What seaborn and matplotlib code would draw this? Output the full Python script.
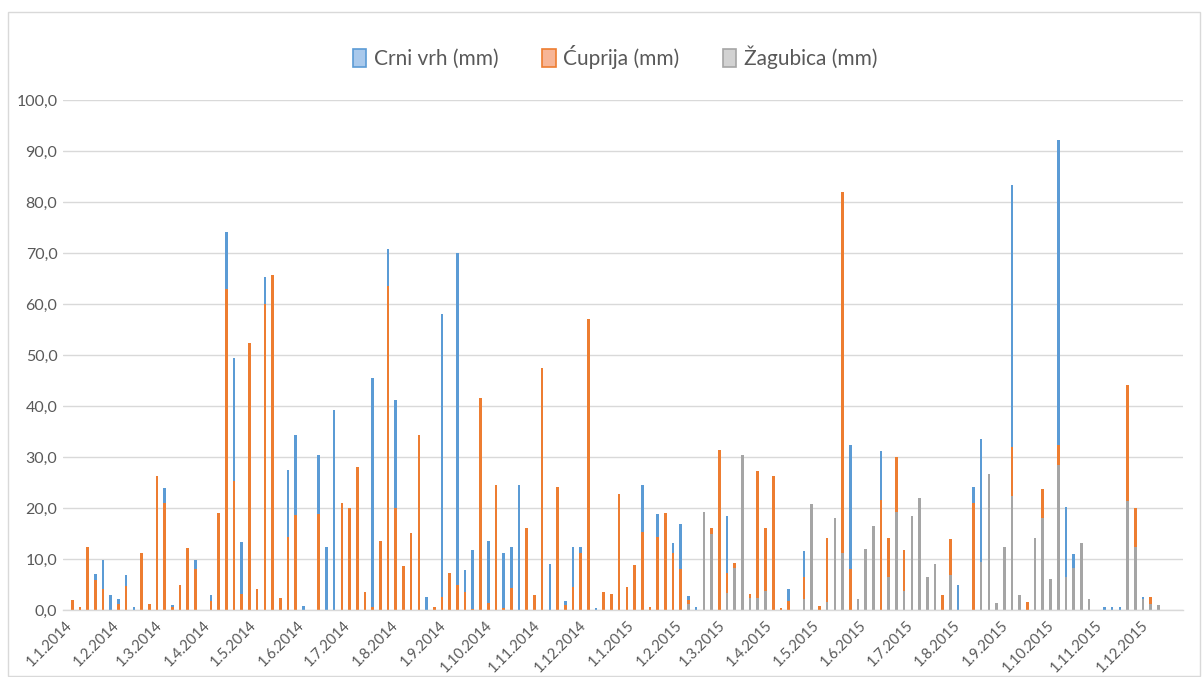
import matplotlib
matplotlib.use("Agg")
import matplotlib.pyplot as plt
import matplotlib.dates as mdates
from matplotlib.patches import Patch, Rectangle
from matplotlib.ticker import FuncFormatter, MultipleLocator
import seaborn as sns
import pandas as pd

# 5-day precipitation sums, starting 1.1.2014
start = "2014-01-01"
step = "5D"

crni_vrh = [0, 1.2, 0, 7.4, 7.0, 9.8, 2.9, 2.1, 6.8, 0.5,
            5.2, 1.0, 24.2, 23.9, 1.0, 2.1, 0, 9.8, 0, 2.9,
            0.5, 74.2, 49.4, 13.4, 33.0, 1.0, 65.2, 28.9, 0, 27.5,
            34.4, 0.7, 0, 30.4, 12.4, 39.2, 13.8, 0, 6.6, 0,
            45.5, 9.0, 70.8, 41.1, 0.3, 1.0, 0.8, 2.6, 0, 58.1,
            0, 70.0, 7.9, 11.7, 0, 13.5, 10.2, 11.2, 12.3, 24.5,
            0, 0, 0, 9.0, 23.5, 1.7, 12.3, 12.3, 46.7, 0.3,
            0, 0, 21.5, 1.6, 0, 24.6, 0, 18.8, 7.4, 13.2,
            16.8, 2.8, 0.6, 8.7, 0, 0, 18.4, 1.5, 10.3, 0,
            20.4, 15.8, 24.1, 0.4, 4.1, 0, 11.6, 9.0, 0, 4.5,
            0, 28.9, 32.3, 0.5, 1.7, 12.3, 31.2, 3.6, 13.9, 2.2,
            0, 0, 0, 0, 2.0, 0, 5.0, 0, 24.2, 33.5,
            1.5, 0, 0, 83.3, 0, 0, 4.2, 22.1, 3.7, 92.1,
            20.1, 11.0, 11.2, 0, 0, 0.5, 0.5, 0.5, 33.2, 16.8,
            2.5, 0, 0]

cuprija = [0, 2.0, 0.5, 12.3, 5.8, 4.2, 0, 1.2, 4.8, 0,
           11.1, 1.2, 26.3, 21.0, 0.5, 5.0, 12.2, 8.0, 0, 1.8,
           19.1, 62.9, 25.3, 3.2, 52.3, 4.1, 60.0, 65.6, 2.4, 14.4,
           18.7, 0, 0, 18.8, 0, 0, 20.9, 20.0, 28.1, 3.6,
           0.5, 13.5, 63.6, 20.0, 8.6, 15.1, 34.3, 0, 0.5, 2.6,
           7.2, 5.0, 3.6, 0.2, 41.6, 1.4, 24.5, 0.3, 4.4, 0,
           16.1, 3.0, 47.5, 0, 24.1, 1.0, 4.5, 11.2, 57.1, 0,
           3.6, 3.2, 22.7, 4.5, 8.8, 15.3, 0.5, 14.4, 19.1, 11.2,
           8.0, 2.0, 0, 0, 16.1, 31.4, 7.2, 9.2, 0.5, 3.1,
           27.3, 16.1, 26.3, 0.3, 1.8, 0, 6.4, 0, 0.8, 14.1,
           0.5, 82.0, 8.0, 0, 0, 2.5, 21.5, 14.1, 30.0, 11.8,
           0, 5.6, 0, 0, 3.0, 14.0, 0, 0, 20.9, 8.0,
           0, 0, 8.0, 32.0, 0, 1.6, 9.2, 23.7, 0, 32.4,
           4.0, 0, 9.0, 0, 0, 0, 0, 0, 44.1, 20.0,
           0, 2.5, 0]

zagubica = [0] * 81 + [
            1.2, 0, 19.3, 14.9, 0, 3.3, 8.3, 30.3, 2.3,
            2.3, 3.8, 0, 0, 0, 0, 2.1, 20.7, 0, 1.5,
            18.1, 11.2, 0, 2.1, 11.9, 16.5, 0, 6.4, 19.3, 3.8,
            18.5, 21.9, 6.5, 9.1, 0, 6.8, 0, 0, 0, 9.4,
            26.6, 1.3, 12.3, 22.3, 3.0, 0, 14.1, 18.1, 6.0, 28.5,
            6.4, 8.3, 13.2, 2.1, 0, 0, 0, 0, 21.3, 12.4,
            2.2, 1.2, 1.0]

series_names = ["Crni vrh (mm)", "Ćuprija (mm)", "Žagubica (mm)"]
colors = ["#5B9BD5", "#ED7D31", "#A5A5A5"]
legend_fill = ["#A9C9EC", "#F7B596", "#D2D2D2"]

dates = pd.date_range(start, periods=len(crni_vrh), freq=step)
df = pd.DataFrame({"date": dates,
                   series_names[0]: crni_vrh,
                   series_names[1]: cuprija,
                   series_names[2]: zagubica})
long = df.melt(id_vars="date", var_name="series", value_name="mm")
long["x"] = mdates.date2num(long["date"])

sns.set_style("white")
plt.rcParams["font.family"] = ["Lato", "DejaVu Sans"]
text_col = "#595959"

fig = plt.figure(figsize=(12.02, 6.77), dpi=100)
ax = fig.add_axes([63 / 1202, 67 / 677, 1120 / 1202, 510 / 677])

sns.barplot(data=long, x="x", y="mm", hue="series", hue_order=series_names,
            palette=colors, native_scale=True, dodge=False, width=0.34,
            saturation=1, linewidth=0, errorbar=None, legend=False, ax=ax)

ax.set_xlim(mdates.date2num(pd.Timestamp("2013-12-31")),
            mdates.date2num(pd.Timestamp("2015-12-28")))
ax.set_ylim(0, 100)
ax.xaxis.set_major_locator(mdates.MonthLocator())
ax.xaxis.set_major_formatter(FuncFormatter(
    lambda v, p: "{0.day}.{0.month}.{0.year}".format(mdates.num2date(v))))
ax.yaxis.set_major_locator(MultipleLocator(10))
ax.yaxis.set_major_formatter(FuncFormatter(lambda v, p: f"{v:.1f}".replace(".", ",")))

ax.set_xlabel("")
ax.set_ylabel("")
ax.yaxis.grid(True, color="#D9D9D9", lw=1)
ax.xaxis.grid(False)
ax.set_axisbelow(True)
for s in ["top", "right", "left"]:
    ax.spines[s].set_visible(False)
ax.spines["bottom"].set_color("#D9D9D9")
ax.spines["bottom"].set_linewidth(1)

ax.tick_params(axis="x", length=4, color="#D9D9D9", labelsize=10.5,
               labelcolor=text_col, labelrotation=45, pad=2)
ax.tick_params(axis="y", length=0, labelsize=11.5, labelcolor=text_col, pad=4)
plt.setp(ax.get_xticklabels(), ha="right", rotation_mode="anchor")

handles = [Patch(facecolor=f, edgecolor=c, lw=1.2, label=n)
           for n, c, f in zip(series_names, colors, legend_fill)]
fig.legend(handles=handles, loc="center", bbox_to_anchor=(615 / 1202, 1 - 57 / 677),
           ncol=3, frameon=False, fontsize=15, handlelength=0.65, handleheight=0.95,
           handletextpad=0.35, columnspacing=2.1, labelcolor=text_col)

fig.patches.append(Rectangle((8 / 1202, 1 / 677), 1192 / 1202, 664 / 677,
                             transform=fig.transFigure, fill=False,
                             edgecolor="#D9D9D9", lw=1))

fig.savefig("out.png", dpi=100)
